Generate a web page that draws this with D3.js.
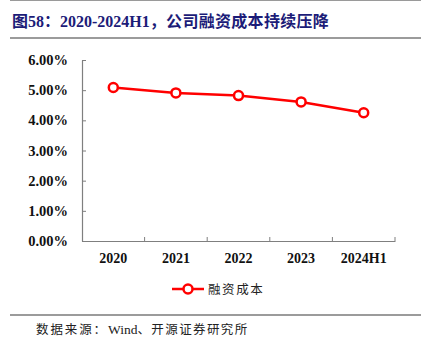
<!DOCTYPE html>
<html>
<head>
<meta charset="utf-8">
<script src="https://cdn.jsdelivr.net/npm/d3@7"></script>
<style>
  body { margin: 0; background: #fff; }
  svg { display: block; }
</style>
</head>
<body>
<svg width="426" height="354"></svg>
<script>
const categories = ['2020', '2021', '2022', '2023', '2024H1'];
const financingCost = [5.09, 4.91, 4.82, 4.61, 4.25];
const yTicks = [0, 1, 2, 3, 4, 5, 6];
const seriesName = '融资成本';

const svg = d3.select('svg');
const serif = '"Liberation Serif", "Times New Roman", serif';
const cjk = '"Noto Sans CJK SC", sans-serif';
const red = '#ff0000';
const axisColor = '#7f7f7f';

// frame lines
svg.append('line').attr('x1', 10).attr('x2', 421).attr('y1', 0.5).attr('y2', 0.5)
  .attr('stroke', '#9a9a9a').attr('stroke-width', 1);
svg.append('line').attr('x1', 10).attr('x2', 421).attr('y1', 38).attr('y2', 38)
  .attr('stroke', '#7a7a7a').attr('stroke-width', 1.5);
svg.append('line').attr('x1', 10).attr('x2', 421).attr('y1', 315).attr('y2', 315)
  .attr('stroke', '#7a7a7a').attr('stroke-width', 1.5);

// title
const title = svg.append('text').attr('x', 12).attr('y', 27)
  .attr('fill', '#1c1c78').attr('font-size', 16).attr('font-weight', 'bold');
title.append('tspan').attr('font-family', cjk).text('图');
title.append('tspan').attr('font-family', serif).text('58');
title.append('tspan').attr('font-family', cjk).text('：');
title.append('tspan').attr('font-family', serif).text('2020-2024H1');
title.append('tspan').attr('font-family', cjk).attr('letter-spacing', 0.3).text('，公司融资成本持续压降');

// source
const src = svg.append('text').attr('x', 36).attr('y', 334)
  .attr('fill', '#222').attr('font-size', 12.5);
src.append('tspan').attr('font-family', cjk).attr('letter-spacing', 1.9).text('数据来源：');
src.append('tspan').attr('font-family', serif).attr('font-size', 13.5).text('Wind');
src.append('tspan').attr('font-family', cjk).attr('letter-spacing', 1.4).text('、开源证券研究所');

const x = d3.scaleBand().domain(categories).range([82, 395]);
const y = d3.scaleLinear().domain([0, 6]).range([241, 60]);

// y axis
const yAxis = svg.append('g').attr('transform', 'translate(82,0)')
  .call(d3.axisLeft(y).tickValues(yTicks).tickSizeInner(-4).tickSizeOuter(0)
    .tickPadding(14).tickFormat(d => d3.format('.2f')(d) + '%'));
yAxis.select('.domain').attr('stroke', axisColor).attr('stroke-width', 1.2);
yAxis.selectAll('.tick line').attr('stroke', axisColor);
yAxis.selectAll('text').attr('font-family', serif).attr('font-size', 14.5)
  .attr('font-weight', 'bold').attr('fill', '#111');

// x axis
const xAxis = svg.append('g').attr('transform', 'translate(0,241)')
  .call(d3.axisBottom(x).tickSize(0).tickPadding(12));
xAxis.select('.domain').attr('stroke', axisColor).attr('stroke-width', 1.2);
xAxis.selectAll('text').attr('font-family', serif).attr('font-size', 14)
  .attr('font-weight', 'bold').attr('fill', '#111');
svg.append('g').selectAll('line')
  .data(categories.map(c => x(c) + x.bandwidth()))
  .enter().append('line')
  .attr('x1', d => d).attr('x2', d => d).attr('y1', 241).attr('y2', 237)
  .attr('stroke', axisColor);

// line
const cx = d => x(d) + x.bandwidth() / 2;
const line = d3.line().x((d, i) => cx(categories[i])).y(d => y(d));
svg.append('path').datum(financingCost).attr('d', line)
  .attr('fill', 'none').attr('stroke', red).attr('stroke-width', 2.5);
svg.append('g').selectAll('circle').data(financingCost).enter().append('circle')
  .attr('cx', (d, i) => cx(categories[i])).attr('cy', d => y(d)).attr('r', 4.5)
  .attr('fill', '#fff').attr('stroke', red).attr('stroke-width', 2.5);

// legend
svg.append('line').attr('x1', 172).attr('x2', 204).attr('y1', 289).attr('y2', 289)
  .attr('stroke', red).attr('stroke-width', 2.5);
svg.append('circle').attr('cx', 188).attr('cy', 289).attr('r', 4.5)
  .attr('fill', '#fff').attr('stroke', red).attr('stroke-width', 2.5);
svg.append('text').attr('x', 208).attr('y', 293.5).attr('font-family', cjk)
  .attr('font-size', 12.5).attr('letter-spacing', 1.6).attr('fill', '#222').text(seriesName);
</script>
</body>
</html>
